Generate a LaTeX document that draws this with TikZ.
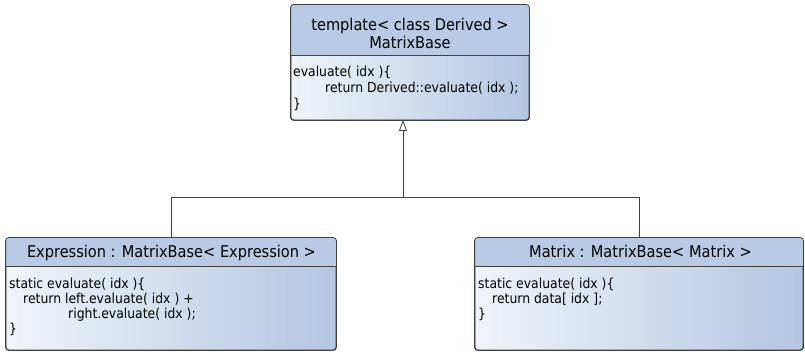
\documentclass[tikz,border=0pt]{standalone}
\usepackage{fontspec}
\setmainfont{DejaVu Sans Condensed}
\usetikzlibrary{arrows.meta,calc}
\definecolor{headblue}{HTML}{B9CBE4}
\definecolor{bodyleft}{HTML}{F0F4FA}
\definecolor{bodyright}{HTML}{B3C6E1}
\definecolor{edge}{HTML}{404040}
\tikzset{
  classbox/.style={draw=edge, line width=0.8pt, rounded corners=3pt, left color=bodyleft, right color=bodyright, inner sep=0pt},
  titletext/.style={font=\fontsize{16.2}{18}\selectfont, text=black, inner sep=0pt, anchor=base},
  bodytext/.style={font=\fontsize{13.8}{16}\selectfont, text=black, inner sep=0pt, anchor=base west},
  conn/.style={draw=edge, line width=0.8pt},
}
\newcommand{\headerfill}[2]{%
  \fill[headblue] ($(#1.north west)+(0,#2)$) [rounded corners=3pt] -- (#1.north west) -- (#1.north east) [sharp corners] -- ($(#1.north east)+(0,#2)$) -- cycle;
  \draw[edge, line width=0.8pt, rounded corners=3pt] (#1.north west) rectangle (#1.south east);
  \draw[edge, line width=0.8pt] ($(#1.north west)+(0,#2)$) -- ($(#1.north east)+(0,#2)$);
}
\begin{document}
\begin{tikzpicture}[x=1pt,y=-1pt]
\useasboundingbox (0,0) rectangle (805,352);
% boxes
\node[classbox, minimum width=238pt, minimum height=115pt] (base) at (410,62.5) {};
\node[classbox, minimum width=330pt, minimum height=112pt] (expr) at (171,294) {};
\node[classbox, minimum width=328pt, minimum height=112pt] (mat) at (639,294) {};
\headerfill{base}{51}
\headerfill{expr}{28.5}
\headerfill{mat}{28.5}
% base texts
\node[titletext] (baset1) at (410,31) {template< class Derived >};
\node[titletext] (baset2) at (410,49) {MatrixBase};
\node[bodytext] (baseb1) at (293,77) {evaluate( idx )\{};
\node[bodytext] (baseb2) at (325,93) {return Derived::evaluate( idx );};
\node[bodytext] (baseb3) at (293,109) {\}};
% expression texts
\node[titletext] (exprt) at (171.5,258) {Expression : MatrixBase< Expression >};
\node[bodytext] (exprb1) at (9,289) {static evaluate( idx )\{};
\node[bodytext] (exprb2) at (23,304) {return left.evaluate( idx ) +};
\node[bodytext] (exprb3) at (68,319) {right.evaluate( idx );};
\node[bodytext] (exprb4) at (9,334) {\}};
% matrix texts
\node[titletext] (matt) at (640.5,258) {Matrix : MatrixBase< Matrix >};
\node[bodytext] (matb1) at (478,289) {static evaluate( idx )\{};
\node[bodytext] (matb2) at (492,304) {return data[ idx ];};
\node[bodytext] (matb3) at (478,319) {\}};
% connectors
\coordinate (j) at (403,197);
\draw[conn] (expr.north) |- (j);
\draw[conn] (mat.north) |- (j);
\draw[conn, -{Triangle[open, length=11pt, width=8pt]}] (j) -- (403,120);
\end{tikzpicture}
\end{document}
